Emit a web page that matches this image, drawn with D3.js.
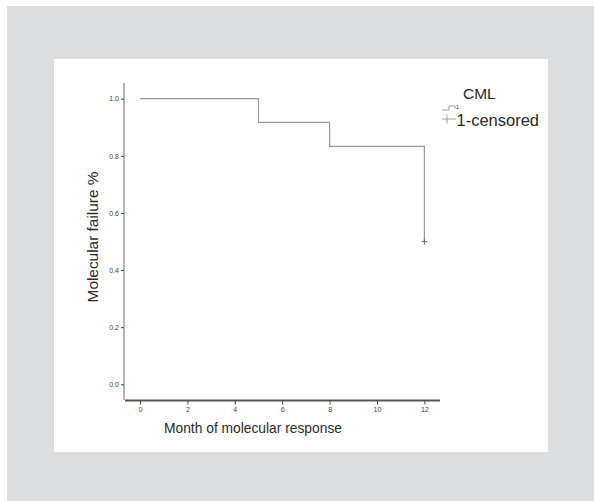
<!DOCTYPE html>
<html><head><meta charset="utf-8">
<script src="https://cdn.jsdelivr.net/npm/d3@7"></script>
<style>body{margin:0;background:#fff}svg{display:block}text{font-family:"Liberation Sans",Arial,sans-serif}</style>
</head><body>
<script>
const stepTimes = [0, 5, 8, 12];
const stepSurvival = [1.0, 0.917, 0.833, 0.5];
const censorTimes = [12];
const censorSurvival = [0.5];
const xTicks = [0, 2, 4, 6, 8, 10, 12];
const yTicks = [0.0, 0.2, 0.4, 0.6, 0.8, 1.0];

const W = 594, H = 501;
const svg = d3.select("body").append("svg").attr("width", W).attr("height", H);
svg.append("rect").attr("x", 7).attr("y", 6).attr("width", W - 7).attr("height", H - 6).attr("fill", "#dcdddf");
svg.append("rect").attr("x", 54).attr("y", 59).attr("width", 494).attr("height", 393).attr("fill", "#fff");

const x = d3.scaleLinear().domain([0, 12]).range([140, 424.4]);
const y = d3.scaleLinear().domain([0, 1]).range([384.3, 98.7]);

// axes
const yAxis = svg.append("g").attr("transform", "translate(124,0)")
  .call(d3.axisLeft(y).tickValues(yTicks).tickFormat(d3.format(".1f")).tickSize(3).tickPadding(2));
yAxis.select(".domain").attr("d", "M0,83V400").attr("stroke", "#888").attr("stroke-width", 1.2);
yAxis.selectAll(".tick line").attr("stroke", "#444");
yAxis.selectAll(".tick text").attr("font-size", 7).attr("fill", "#444");

const xAxis = svg.append("g").attr("transform", "translate(0,400.5)")
  .call(d3.axisBottom(x).tickValues(xTicks).tickSize(4).tickPadding(3));
xAxis.select(".domain").attr("d", "M125,0H440").attr("stroke", "#555").attr("stroke-width", 2.2);
xAxis.selectAll(".tick line").attr("stroke", "#444");
xAxis.selectAll(".tick text").attr("font-size", 7).attr("fill", "#444");

// step curve
const pts = [];
stepTimes.forEach((t, i) => {
  if (i > 0) pts.push([t, stepSurvival[i - 1]]);
  pts.push([t, stepSurvival[i]]);
});
svg.append("path").attr("d", d3.line().x(d => x(d[0])).y(d => y(d[1]))(pts))
  .attr("fill", "none").attr("stroke", "#9a9a9a").attr("stroke-width", 1.2);

censorTimes.forEach((t, i) => {
  const cx = x(t), cy = y(censorSurvival[i]);
  svg.append("path").attr("d", `M${cx-3},${cy}H${cx+3}M${cx},${cy-3}V${cy+3}`)
    .attr("stroke", "#777").attr("stroke-width", 1.2);
});

// labels
svg.append("text").attr("x", 253).attr("y", 433).attr("text-anchor", "middle")
  .attr("font-size", 13.8).attr("fill", "#2a2a2a").text("Month of molecular response");
svg.append("text").attr("transform", "translate(97.5,237) rotate(-90)").attr("text-anchor", "middle")
  .attr("font-size", 15.4).attr("fill", "#2a2a2a").text("Molecular failure %");

// legend
svg.append("text").attr("x", 463).attr("y", 98.5).attr("font-size", 15.5).attr("fill", "#2a2a2a").text("CML");
svg.append("path").attr("d", "M442,110H449V106H455V109").attr("fill", "none").attr("stroke", "#888").attr("stroke-width", 0.8);
svg.append("text").attr("x", 456).attr("y", 108.5).attr("font-size", 5.5).attr("fill", "#333").text("1");
svg.append("path").attr("d", "M442,119H456M447,114.5V123.5").attr("stroke", "#888").attr("stroke-width", 0.8);
svg.append("text").attr("x", 456.5).attr("y", 125.5).attr("font-size", 16.5).attr("fill", "#2a2a2a").text("1-censored");
</script>
</body></html>
